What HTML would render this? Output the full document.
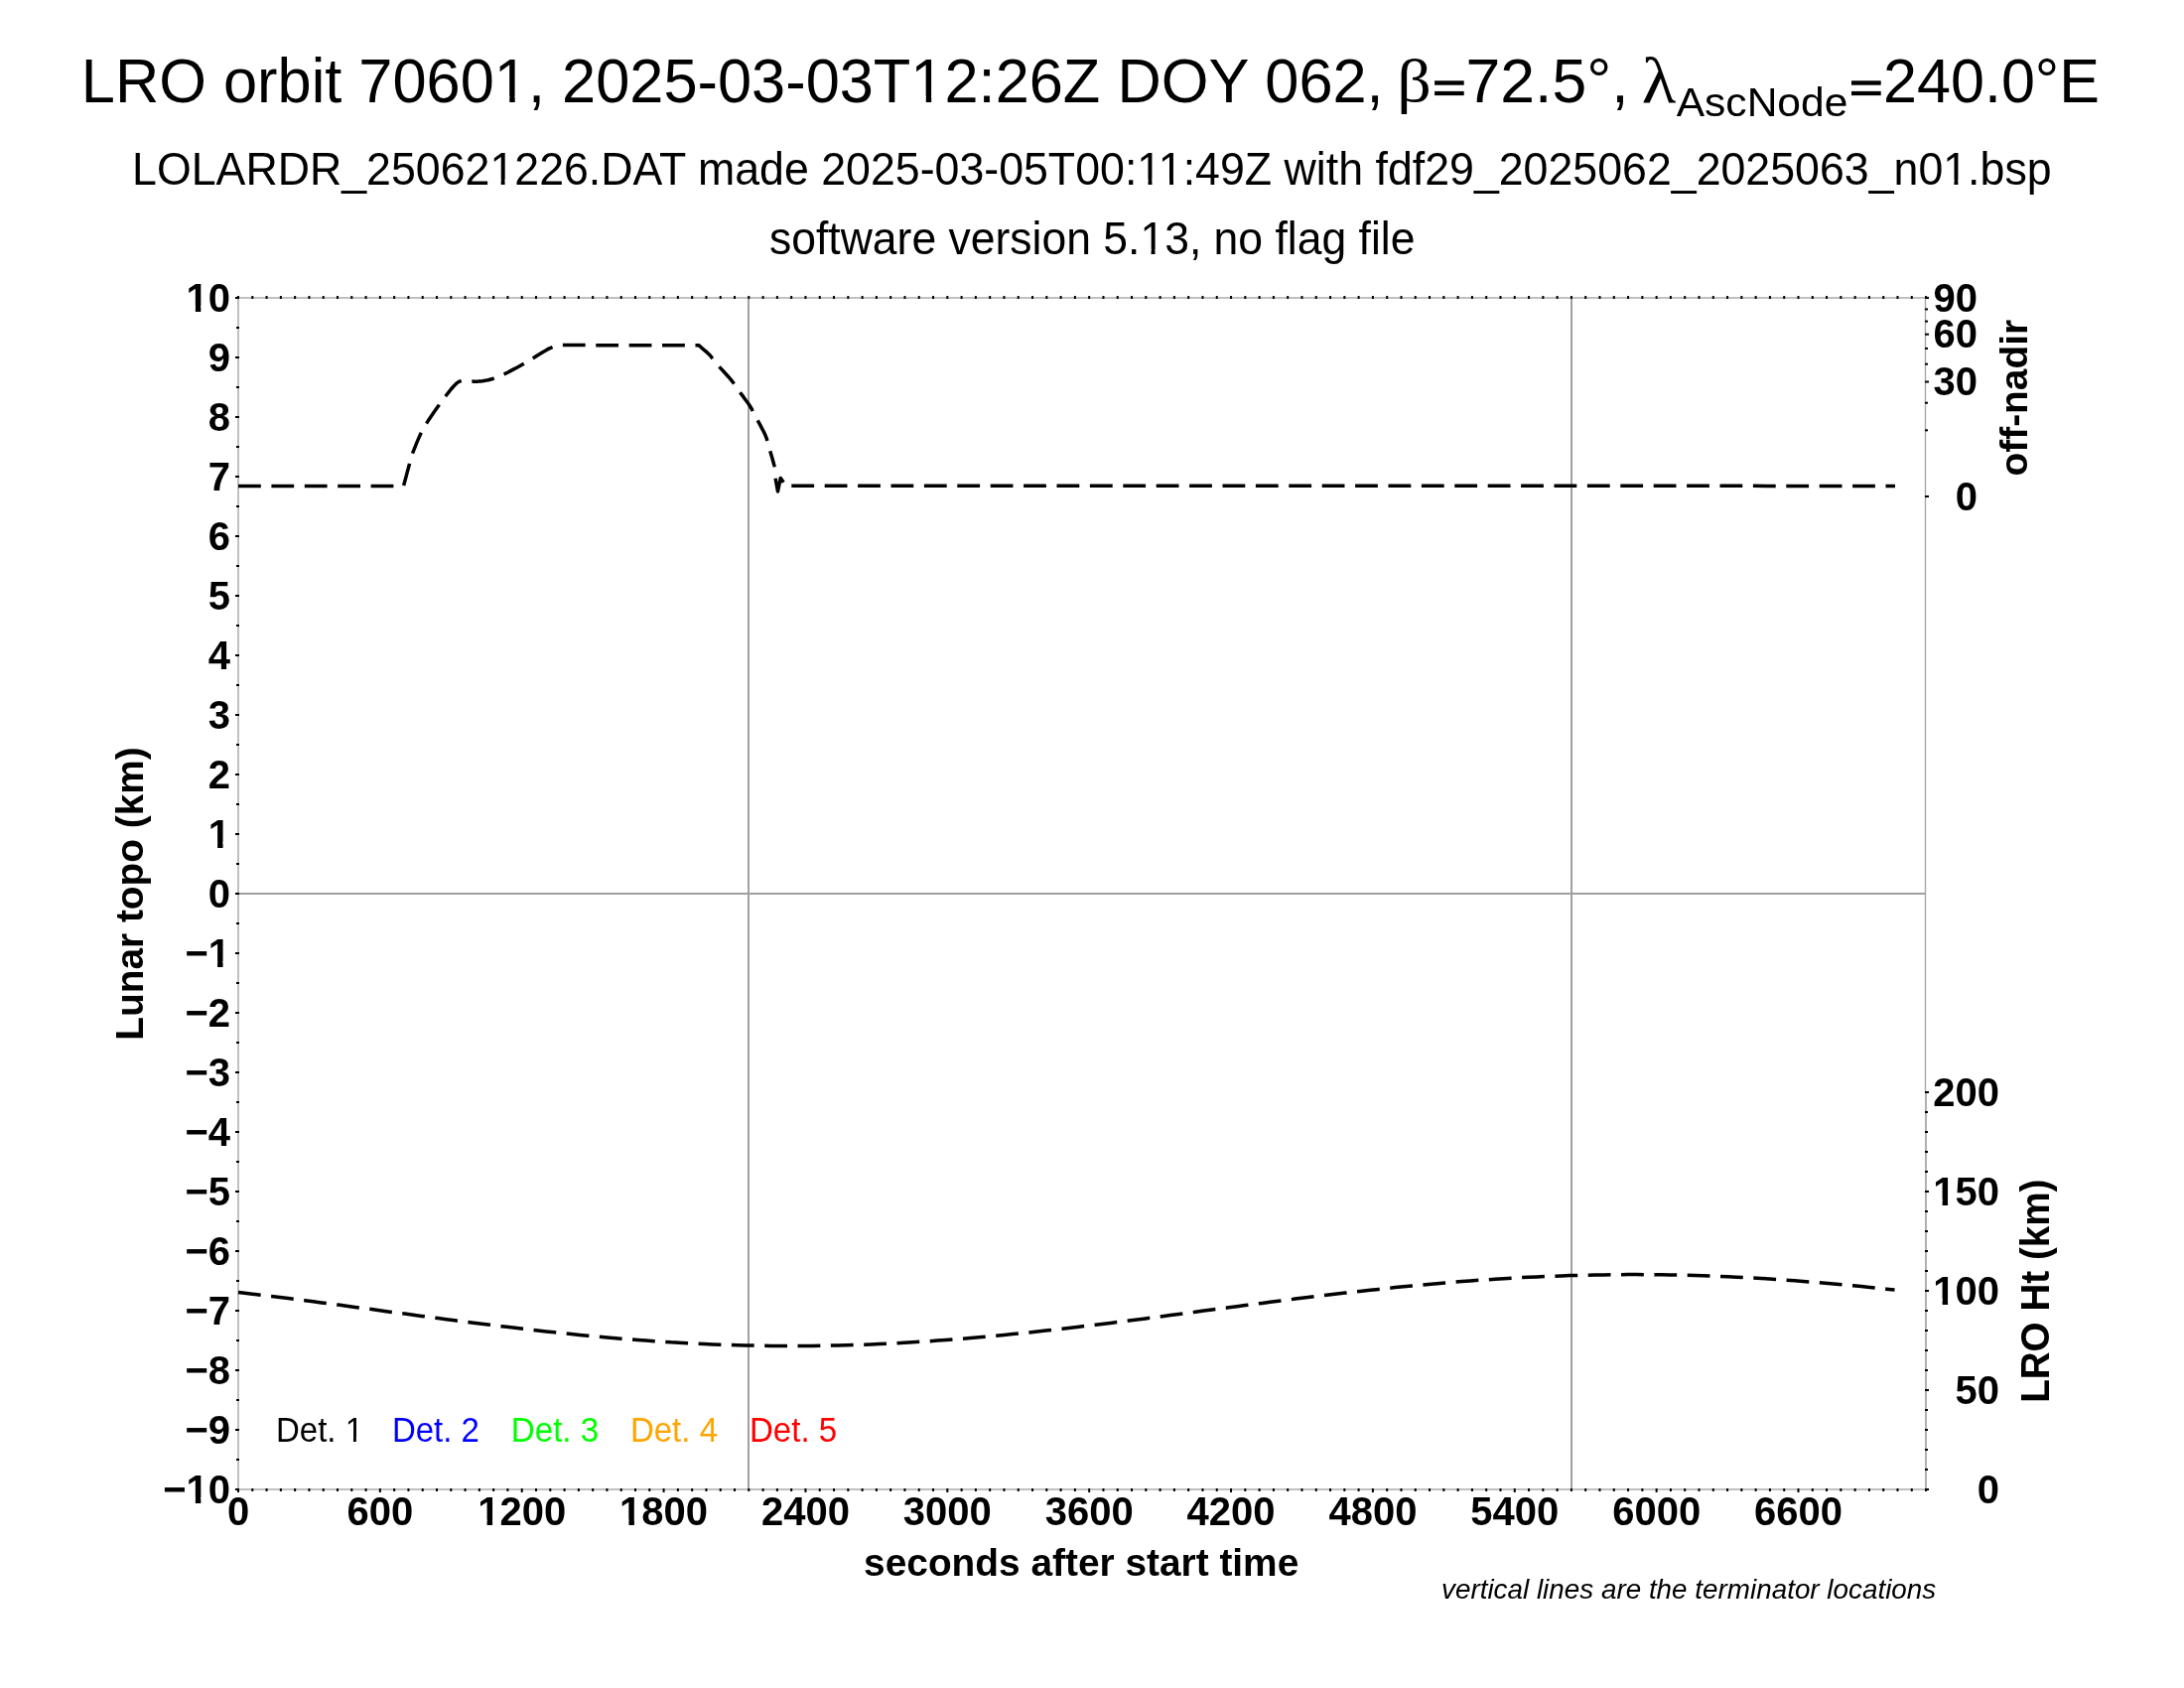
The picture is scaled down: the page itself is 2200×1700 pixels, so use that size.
<!DOCTYPE html>
<html><head><meta charset="utf-8"><title>LRO orbit 70601</title><style>
html,body{margin:0;padding:0;background:#fff;}
body{width:2200px;height:1700px;overflow:hidden;}
svg{display:block;will-change:transform;}

</style></head><body>
<svg width="2200" height="1700" viewBox="0 0 2200 1700">
<rect width="2200" height="1700" fill="#fff"/>

<text id="T1" transform="translate(81.80,103.00) scale(1.0008,1.0300)" style="font-family:&quot;Liberation Sans&quot;;font-weight:normal;font-style:normal;font-size:61.3px" fill="#000">LRO orbit 70601, 2025-03-03T12:26Z DOY 062,</text>
<text transform="translate(1407.27,102.36) scale(1.1080,1.0107)" style="font-family:&quot;Liberation Serif&quot;;font-weight:normal;font-style:normal;font-size:61.3px" fill="#000">β</text>
<text transform="translate(1476.54,103.00) scale(1.0197,1.0300)" style="font-family:&quot;Liberation Sans&quot;;font-weight:normal;font-style:normal;font-size:61.3px" fill="#000">72.5°,</text>
<text transform="translate(1653.67,103.00) scale(1.1630,1.0558)" style="font-family:&quot;Liberation Serif&quot;;font-weight:normal;font-style:normal;font-size:61.3px" fill="#000">λ</text>
<text transform="translate(1688.70,116.80) scale(1.0640,1.0356)" style="font-family:&quot;Liberation Sans&quot;;font-weight:normal;font-style:normal;font-size:40px" fill="#000">AscNode</text>
<text transform="translate(1897.11,103.00) scale(0.9958,1.0300)" style="font-family:&quot;Liberation Sans&quot;;font-weight:normal;font-style:normal;font-size:61.3px" fill="#000">240.0°E</text>
<text id="S2" transform="translate(133.10,186.00) scale(1.0003,1.0399)" style="font-family:&quot;Liberation Sans&quot;;font-weight:normal;font-style:normal;font-size:44.7px" fill="#000">LOLARDR_250621226.DAT made 2025-03-05T00:11:49Z with fdf29_2025062_2025063_n01.bsp</text>
<text id="S3" transform="translate(775.00,256.00) scale(0.9955,1.0188)" style="font-family:&quot;Liberation Sans&quot;;font-weight:normal;font-style:normal;font-size:44.7px" fill="#000">software version 5.13, no flag file</text>
<g fill="#000"><rect x="1445.1" y="81.3" width="29.6" height="4.4"/><rect x="1445.1" y="91.9" width="29.6" height="4.2"/><rect x="1865.0" y="81.3" width="29.7" height="4.4"/><rect x="1865.0" y="91.9" width="29.7" height="4.2"/></g>
<g fill="#a0a0a0">
<rect x="241" y="899" width="1698" height="2"/>
<rect x="753" y="301" width="2" height="1198"/>
<rect x="1582" y="301" width="2" height="1198"/>
</g>
<g fill="#c0c0c0">
<rect x="239" y="299" width="1702" height="2"/>
<rect x="239" y="1499" width="1702" height="2"/>
<rect x="239" y="299" width="2" height="1202"/>
</g>
<rect x="1938.8" y="299" width="1.4" height="801" fill="#a8a8a8"/>
<rect x="1939" y="1100" width="2" height="401" fill="#b0b0b0"/>
<g fill="#000"><rect x="239.00" y="298" width="2" height="3"/><rect x="239.00" y="1499" width="2" height="4"/><rect x="253.29" y="298" width="2" height="3"/><rect x="253.29" y="1499" width="2" height="3"/><rect x="267.57" y="298" width="2" height="3"/><rect x="267.57" y="1499" width="2" height="3"/><rect x="281.86" y="298" width="2" height="3"/><rect x="281.86" y="1499" width="2" height="3"/><rect x="296.15" y="298" width="2" height="3"/><rect x="296.15" y="1499" width="2" height="3"/><rect x="310.43" y="298" width="2" height="3"/><rect x="310.43" y="1499" width="2" height="3"/><rect x="324.72" y="298" width="2" height="3"/><rect x="324.72" y="1499" width="2" height="3"/><rect x="339.00" y="298" width="2" height="3"/><rect x="339.00" y="1499" width="2" height="3"/><rect x="353.29" y="298" width="2" height="3"/><rect x="353.29" y="1499" width="2" height="3"/><rect x="367.58" y="298" width="2" height="3"/><rect x="367.58" y="1499" width="2" height="3"/><rect x="381.86" y="298" width="2" height="3"/><rect x="381.86" y="1499" width="2" height="4"/><rect x="396.15" y="298" width="2" height="3"/><rect x="396.15" y="1499" width="2" height="3"/><rect x="410.44" y="298" width="2" height="3"/><rect x="410.44" y="1499" width="2" height="3"/><rect x="424.72" y="298" width="2" height="3"/><rect x="424.72" y="1499" width="2" height="3"/><rect x="439.01" y="298" width="2" height="3"/><rect x="439.01" y="1499" width="2" height="3"/><rect x="453.30" y="298" width="2" height="3"/><rect x="453.30" y="1499" width="2" height="3"/><rect x="467.58" y="298" width="2" height="3"/><rect x="467.58" y="1499" width="2" height="3"/><rect x="481.87" y="298" width="2" height="3"/><rect x="481.87" y="1499" width="2" height="3"/><rect x="496.15" y="298" width="2" height="3"/><rect x="496.15" y="1499" width="2" height="3"/><rect x="510.44" y="298" width="2" height="3"/><rect x="510.44" y="1499" width="2" height="3"/><rect x="524.73" y="298" width="2" height="3"/><rect x="524.73" y="1499" width="2" height="4"/><rect x="539.01" y="298" width="2" height="3"/><rect x="539.01" y="1499" width="2" height="3"/><rect x="553.30" y="298" width="2" height="3"/><rect x="553.30" y="1499" width="2" height="3"/><rect x="567.59" y="298" width="2" height="3"/><rect x="567.59" y="1499" width="2" height="3"/><rect x="581.87" y="298" width="2" height="3"/><rect x="581.87" y="1499" width="2" height="3"/><rect x="596.16" y="298" width="2" height="3"/><rect x="596.16" y="1499" width="2" height="3"/><rect x="610.45" y="298" width="2" height="3"/><rect x="610.45" y="1499" width="2" height="3"/><rect x="624.73" y="298" width="2" height="3"/><rect x="624.73" y="1499" width="2" height="3"/><rect x="639.02" y="298" width="2" height="3"/><rect x="639.02" y="1499" width="2" height="3"/><rect x="653.30" y="298" width="2" height="3"/><rect x="653.30" y="1499" width="2" height="3"/><rect x="667.59" y="298" width="2" height="3"/><rect x="667.59" y="1499" width="2" height="4"/><rect x="681.88" y="298" width="2" height="3"/><rect x="681.88" y="1499" width="2" height="3"/><rect x="696.16" y="298" width="2" height="3"/><rect x="696.16" y="1499" width="2" height="3"/><rect x="710.45" y="298" width="2" height="3"/><rect x="710.45" y="1499" width="2" height="3"/><rect x="724.74" y="298" width="2" height="3"/><rect x="724.74" y="1499" width="2" height="3"/><rect x="739.02" y="298" width="2" height="3"/><rect x="739.02" y="1499" width="2" height="3"/><rect x="753.31" y="298" width="2" height="3"/><rect x="753.31" y="1499" width="2" height="3"/><rect x="767.60" y="298" width="2" height="3"/><rect x="767.60" y="1499" width="2" height="3"/><rect x="781.88" y="298" width="2" height="3"/><rect x="781.88" y="1499" width="2" height="3"/><rect x="796.17" y="298" width="2" height="3"/><rect x="796.17" y="1499" width="2" height="3"/><rect x="810.45" y="298" width="2" height="3"/><rect x="810.45" y="1499" width="2" height="4"/><rect x="824.74" y="298" width="2" height="3"/><rect x="824.74" y="1499" width="2" height="3"/><rect x="839.03" y="298" width="2" height="3"/><rect x="839.03" y="1499" width="2" height="3"/><rect x="853.31" y="298" width="2" height="3"/><rect x="853.31" y="1499" width="2" height="3"/><rect x="867.60" y="298" width="2" height="3"/><rect x="867.60" y="1499" width="2" height="3"/><rect x="881.89" y="298" width="2" height="3"/><rect x="881.89" y="1499" width="2" height="3"/><rect x="896.17" y="298" width="2" height="3"/><rect x="896.17" y="1499" width="2" height="3"/><rect x="910.46" y="298" width="2" height="3"/><rect x="910.46" y="1499" width="2" height="3"/><rect x="924.75" y="298" width="2" height="3"/><rect x="924.75" y="1499" width="2" height="3"/><rect x="939.03" y="298" width="2" height="3"/><rect x="939.03" y="1499" width="2" height="3"/><rect x="953.32" y="298" width="2" height="3"/><rect x="953.32" y="1499" width="2" height="4"/><rect x="967.60" y="298" width="2" height="3"/><rect x="967.60" y="1499" width="2" height="3"/><rect x="981.89" y="298" width="2" height="3"/><rect x="981.89" y="1499" width="2" height="3"/><rect x="996.18" y="298" width="2" height="3"/><rect x="996.18" y="1499" width="2" height="3"/><rect x="1010.46" y="298" width="2" height="3"/><rect x="1010.46" y="1499" width="2" height="3"/><rect x="1024.75" y="298" width="2" height="3"/><rect x="1024.75" y="1499" width="2" height="3"/><rect x="1039.04" y="298" width="2" height="3"/><rect x="1039.04" y="1499" width="2" height="3"/><rect x="1053.32" y="298" width="2" height="3"/><rect x="1053.32" y="1499" width="2" height="3"/><rect x="1067.61" y="298" width="2" height="3"/><rect x="1067.61" y="1499" width="2" height="3"/><rect x="1081.90" y="298" width="2" height="3"/><rect x="1081.90" y="1499" width="2" height="3"/><rect x="1096.18" y="298" width="2" height="3"/><rect x="1096.18" y="1499" width="2" height="4"/><rect x="1110.47" y="298" width="2" height="3"/><rect x="1110.47" y="1499" width="2" height="3"/><rect x="1124.75" y="298" width="2" height="3"/><rect x="1124.75" y="1499" width="2" height="3"/><rect x="1139.04" y="298" width="2" height="3"/><rect x="1139.04" y="1499" width="2" height="3"/><rect x="1153.33" y="298" width="2" height="3"/><rect x="1153.33" y="1499" width="2" height="3"/><rect x="1167.61" y="298" width="2" height="3"/><rect x="1167.61" y="1499" width="2" height="3"/><rect x="1181.90" y="298" width="2" height="3"/><rect x="1181.90" y="1499" width="2" height="3"/><rect x="1196.19" y="298" width="2" height="3"/><rect x="1196.19" y="1499" width="2" height="3"/><rect x="1210.47" y="298" width="2" height="3"/><rect x="1210.47" y="1499" width="2" height="3"/><rect x="1224.76" y="298" width="2" height="3"/><rect x="1224.76" y="1499" width="2" height="3"/><rect x="1239.05" y="298" width="2" height="3"/><rect x="1239.05" y="1499" width="2" height="4"/><rect x="1253.33" y="298" width="2" height="3"/><rect x="1253.33" y="1499" width="2" height="3"/><rect x="1267.62" y="298" width="2" height="3"/><rect x="1267.62" y="1499" width="2" height="3"/><rect x="1281.90" y="298" width="2" height="3"/><rect x="1281.90" y="1499" width="2" height="3"/><rect x="1296.19" y="298" width="2" height="3"/><rect x="1296.19" y="1499" width="2" height="3"/><rect x="1310.48" y="298" width="2" height="3"/><rect x="1310.48" y="1499" width="2" height="3"/><rect x="1324.76" y="298" width="2" height="3"/><rect x="1324.76" y="1499" width="2" height="3"/><rect x="1339.05" y="298" width="2" height="3"/><rect x="1339.05" y="1499" width="2" height="3"/><rect x="1353.34" y="298" width="2" height="3"/><rect x="1353.34" y="1499" width="2" height="3"/><rect x="1367.62" y="298" width="2" height="3"/><rect x="1367.62" y="1499" width="2" height="3"/><rect x="1381.91" y="298" width="2" height="3"/><rect x="1381.91" y="1499" width="2" height="4"/><rect x="1396.20" y="298" width="2" height="3"/><rect x="1396.20" y="1499" width="2" height="3"/><rect x="1410.48" y="298" width="2" height="3"/><rect x="1410.48" y="1499" width="2" height="3"/><rect x="1424.77" y="298" width="2" height="3"/><rect x="1424.77" y="1499" width="2" height="3"/><rect x="1439.05" y="298" width="2" height="3"/><rect x="1439.05" y="1499" width="2" height="3"/><rect x="1453.34" y="298" width="2" height="3"/><rect x="1453.34" y="1499" width="2" height="3"/><rect x="1467.63" y="298" width="2" height="3"/><rect x="1467.63" y="1499" width="2" height="3"/><rect x="1481.91" y="298" width="2" height="3"/><rect x="1481.91" y="1499" width="2" height="3"/><rect x="1496.20" y="298" width="2" height="3"/><rect x="1496.20" y="1499" width="2" height="3"/><rect x="1510.49" y="298" width="2" height="3"/><rect x="1510.49" y="1499" width="2" height="3"/><rect x="1524.77" y="298" width="2" height="3"/><rect x="1524.77" y="1499" width="2" height="4"/><rect x="1539.06" y="298" width="2" height="3"/><rect x="1539.06" y="1499" width="2" height="3"/><rect x="1553.35" y="298" width="2" height="3"/><rect x="1553.35" y="1499" width="2" height="3"/><rect x="1567.63" y="298" width="2" height="3"/><rect x="1567.63" y="1499" width="2" height="3"/><rect x="1581.92" y="298" width="2" height="3"/><rect x="1581.92" y="1499" width="2" height="3"/><rect x="1596.20" y="298" width="2" height="3"/><rect x="1596.20" y="1499" width="2" height="3"/><rect x="1610.49" y="298" width="2" height="3"/><rect x="1610.49" y="1499" width="2" height="3"/><rect x="1624.78" y="298" width="2" height="3"/><rect x="1624.78" y="1499" width="2" height="3"/><rect x="1639.06" y="298" width="2" height="3"/><rect x="1639.06" y="1499" width="2" height="3"/><rect x="1653.35" y="298" width="2" height="3"/><rect x="1653.35" y="1499" width="2" height="3"/><rect x="1667.64" y="298" width="2" height="3"/><rect x="1667.64" y="1499" width="2" height="4"/><rect x="1681.92" y="298" width="2" height="3"/><rect x="1681.92" y="1499" width="2" height="3"/><rect x="1696.21" y="298" width="2" height="3"/><rect x="1696.21" y="1499" width="2" height="3"/><rect x="1710.50" y="298" width="2" height="3"/><rect x="1710.50" y="1499" width="2" height="3"/><rect x="1724.78" y="298" width="2" height="3"/><rect x="1724.78" y="1499" width="2" height="3"/><rect x="1739.07" y="298" width="2" height="3"/><rect x="1739.07" y="1499" width="2" height="3"/><rect x="1753.35" y="298" width="2" height="3"/><rect x="1753.35" y="1499" width="2" height="3"/><rect x="1767.64" y="298" width="2" height="3"/><rect x="1767.64" y="1499" width="2" height="3"/><rect x="1781.93" y="298" width="2" height="3"/><rect x="1781.93" y="1499" width="2" height="3"/><rect x="1796.21" y="298" width="2" height="3"/><rect x="1796.21" y="1499" width="2" height="3"/><rect x="1810.50" y="298" width="2" height="3"/><rect x="1810.50" y="1499" width="2" height="4"/><rect x="1824.79" y="298" width="2" height="3"/><rect x="1824.79" y="1499" width="2" height="3"/><rect x="1839.07" y="298" width="2" height="3"/><rect x="1839.07" y="1499" width="2" height="3"/><rect x="1853.36" y="298" width="2" height="3"/><rect x="1853.36" y="1499" width="2" height="3"/><rect x="1867.65" y="298" width="2" height="3"/><rect x="1867.65" y="1499" width="2" height="3"/><rect x="1881.93" y="298" width="2" height="3"/><rect x="1881.93" y="1499" width="2" height="3"/><rect x="1896.22" y="298" width="2" height="3"/><rect x="1896.22" y="1499" width="2" height="3"/><rect x="1910.50" y="298" width="2" height="3"/><rect x="1910.50" y="1499" width="2" height="3"/><rect x="1924.79" y="298" width="2" height="3"/><rect x="1924.79" y="1499" width="2" height="3"/><rect x="1939.08" y="298" width="2" height="3"/><rect x="1939.08" y="1499" width="2" height="3"/><rect x="237" y="1499.00" width="4" height="2"/><rect x="238" y="1469.00" width="3" height="2"/><rect x="237" y="1439.00" width="4" height="2"/><rect x="238" y="1409.00" width="3" height="2"/><rect x="237" y="1379.00" width="4" height="2"/><rect x="238" y="1349.00" width="3" height="2"/><rect x="237" y="1319.00" width="4" height="2"/><rect x="238" y="1289.00" width="3" height="2"/><rect x="237" y="1259.00" width="4" height="2"/><rect x="238" y="1229.00" width="3" height="2"/><rect x="237" y="1199.00" width="4" height="2"/><rect x="238" y="1169.00" width="3" height="2"/><rect x="237" y="1139.00" width="4" height="2"/><rect x="238" y="1109.00" width="3" height="2"/><rect x="237" y="1079.00" width="4" height="2"/><rect x="238" y="1049.00" width="3" height="2"/><rect x="237" y="1019.00" width="4" height="2"/><rect x="238" y="989.00" width="3" height="2"/><rect x="237" y="959.00" width="4" height="2"/><rect x="238" y="929.00" width="3" height="2"/><rect x="237" y="899.00" width="4" height="2"/><rect x="238" y="869.00" width="3" height="2"/><rect x="237" y="839.00" width="4" height="2"/><rect x="238" y="809.00" width="3" height="2"/><rect x="237" y="779.00" width="4" height="2"/><rect x="238" y="749.00" width="3" height="2"/><rect x="237" y="719.00" width="4" height="2"/><rect x="238" y="689.00" width="3" height="2"/><rect x="237" y="659.00" width="4" height="2"/><rect x="238" y="629.00" width="3" height="2"/><rect x="237" y="599.00" width="4" height="2"/><rect x="238" y="569.00" width="3" height="2"/><rect x="237" y="539.00" width="4" height="2"/><rect x="238" y="509.00" width="3" height="2"/><rect x="237" y="479.00" width="4" height="2"/><rect x="238" y="449.00" width="3" height="2"/><rect x="237" y="419.00" width="4" height="2"/><rect x="238" y="389.00" width="3" height="2"/><rect x="237" y="359.00" width="4" height="2"/><rect x="238" y="329.00" width="3" height="2"/><rect x="237" y="299.00" width="4" height="2"/><rect x="1939" y="499.00" width="4" height="2"/><rect x="1939" y="432.33" width="3" height="2"/><rect x="1939" y="404.72" width="3" height="2"/><rect x="1939" y="383.53" width="4" height="2"/><rect x="1939" y="365.67" width="3" height="2"/><rect x="1939" y="349.93" width="3" height="2"/><rect x="1939" y="335.70" width="4" height="2"/><rect x="1939" y="322.62" width="3" height="2"/><rect x="1939" y="310.44" width="3" height="2"/><rect x="1939" y="299.00" width="4" height="2"/><rect x="1939" y="1499.00" width="4" height="2"/><rect x="1939" y="1479.00" width="3" height="2"/><rect x="1939" y="1459.00" width="3" height="2"/><rect x="1939" y="1439.00" width="3" height="2"/><rect x="1939" y="1419.00" width="3" height="2"/><rect x="1939" y="1399.00" width="4" height="2"/><rect x="1939" y="1379.00" width="3" height="2"/><rect x="1939" y="1359.00" width="3" height="2"/><rect x="1939" y="1339.00" width="3" height="2"/><rect x="1939" y="1319.00" width="3" height="2"/><rect x="1939" y="1299.00" width="4" height="2"/><rect x="1939" y="1279.00" width="3" height="2"/><rect x="1939" y="1259.00" width="3" height="2"/><rect x="1939" y="1239.00" width="3" height="2"/><rect x="1939" y="1219.00" width="3" height="2"/><rect x="1939" y="1199.00" width="4" height="2"/><rect x="1939" y="1179.00" width="3" height="2"/><rect x="1939" y="1159.00" width="3" height="2"/><rect x="1939" y="1139.00" width="3" height="2"/><rect x="1939" y="1119.00" width="3" height="2"/><rect x="1939" y="1099.00" width="4" height="2"/></g>
<g style="font-family:&quot;Liberation Sans&quot;;font-weight:bold;font-size:40px"><text id="L3" transform="translate(232.00,1513.60) scale(1,1.02)" text-anchor="end">−10</text><text transform="translate(232.00,1453.60) scale(1,1.02)" text-anchor="end">−9</text><text transform="translate(232.00,1393.60) scale(1,1.02)" text-anchor="end">−8</text><text transform="translate(232.00,1333.60) scale(1,1.02)" text-anchor="end">−7</text><text transform="translate(232.00,1273.60) scale(1,1.02)" text-anchor="end">−6</text><text transform="translate(232.00,1213.60) scale(1,1.02)" text-anchor="end">−5</text><text transform="translate(232.00,1153.60) scale(1,1.02)" text-anchor="end">−4</text><text transform="translate(232.00,1093.60) scale(1,1.02)" text-anchor="end">−3</text><text transform="translate(232.00,1033.60) scale(1,1.02)" text-anchor="end">−2</text><text id="L4" transform="translate(232.00,973.60) scale(1,1.02)" text-anchor="end">−1</text><text transform="translate(232.00,913.60) scale(1,1.02)" text-anchor="end">0</text><text id="L5" transform="translate(232.00,853.60) scale(1,1.02)" text-anchor="end">1</text><text transform="translate(232.00,793.60) scale(1,1.02)" text-anchor="end">2</text><text transform="translate(232.00,733.60) scale(1,1.02)" text-anchor="end">3</text><text transform="translate(232.00,673.60) scale(1,1.02)" text-anchor="end">4</text><text transform="translate(232.00,613.60) scale(1,1.02)" text-anchor="end">5</text><text transform="translate(232.00,553.60) scale(1,1.02)" text-anchor="end">6</text><text transform="translate(232.00,493.60) scale(1,1.02)" text-anchor="end">7</text><text transform="translate(232.00,433.60) scale(1,1.02)" text-anchor="end">8</text><text transform="translate(232.00,373.60) scale(1,1.02)" text-anchor="end">9</text><text id="L6" transform="translate(232.00,313.60) scale(1,1.02)" text-anchor="end">10</text><text transform="translate(240.00,1536.30) scale(1,1.02)" text-anchor="middle">0</text><text transform="translate(382.86,1536.30) scale(1,1.02)" text-anchor="middle">600</text><text id="L7" transform="translate(525.73,1536.30) scale(1,1.02)" text-anchor="middle">1200</text><text id="L8" transform="translate(668.59,1536.30) scale(1,1.02)" text-anchor="middle">1800</text><text transform="translate(811.45,1536.30) scale(1,1.02)" text-anchor="middle">2400</text><text transform="translate(954.32,1536.30) scale(1,1.02)" text-anchor="middle">3000</text><text transform="translate(1097.18,1536.30) scale(1,1.02)" text-anchor="middle">3600</text><text transform="translate(1240.05,1536.30) scale(1,1.02)" text-anchor="middle">4200</text><text transform="translate(1382.91,1536.30) scale(1,1.02)" text-anchor="middle">4800</text><text transform="translate(1525.77,1536.30) scale(1,1.02)" text-anchor="middle">5400</text><text transform="translate(1668.64,1536.30) scale(1,1.02)" text-anchor="middle">6000</text><text transform="translate(1811.50,1536.30) scale(1,1.02)" text-anchor="middle">6600</text><text transform="translate(1992.00,513.60) scale(1,1.02)" text-anchor="end">0</text><text transform="translate(1992.00,398.13) scale(1,1.02)" text-anchor="end">30</text><text transform="translate(1992.00,350.30) scale(1,1.02)" text-anchor="end">60</text><text transform="translate(1992.00,313.60) scale(1,1.02)" text-anchor="end">90</text><text transform="translate(2014.00,1513.60) scale(1,1.02)" text-anchor="end">0</text><text transform="translate(2014.00,1413.60) scale(1,1.02)" text-anchor="end">50</text><text id="L9" transform="translate(2014.00,1313.60) scale(1,1.02)" text-anchor="end">100</text><text id="L10" transform="translate(2014.00,1213.60) scale(1,1.02)" text-anchor="end">150</text><text transform="translate(2014.00,1113.60) scale(1,1.02)" text-anchor="end">200</text></g>
<text transform="translate(870.11,1587.00) scale(0.9961,1.0014)" style="font-family:&quot;Liberation Sans&quot;;font-weight:bold;font-style:normal;font-size:39px" fill="#000">seconds after start time</text>
<text transform="translate(143.90,1047.69) rotate(-90) scale(0.9952,1.0175)" style="font-family:&quot;Liberation Sans&quot;;font-weight:bold;font-style:normal;font-size:39px" fill="#000">Lunar topo (km)</text>
<text transform="translate(2041.80,479.49) rotate(-90) scale(0.9974,0.9873)" style="font-family:&quot;Liberation Sans&quot;;font-weight:bold;font-style:normal;font-size:39px" fill="#000">off-nadir</text>
<text transform="translate(2064.00,1412.87) rotate(-90) scale(0.9910,1.0361)" style="font-family:&quot;Liberation Sans&quot;;font-weight:bold;font-style:normal;font-size:39px" fill="#000">LRO Ht (km)</text>
<text id="D1" transform="translate(278.00,1451.70) scale(1.0000,1.0615)" style="font-family:&quot;Liberation Sans&quot;;font-weight:normal;font-style:normal;font-size:33px" fill="#000000">Det. 1</text>
<text transform="translate(394.90,1451.70) scale(1.0000,1.0615)" style="font-family:&quot;Liberation Sans&quot;;font-weight:normal;font-style:normal;font-size:33px" fill="#0000ff">Det. 2</text>
<text transform="translate(514.79,1451.70) scale(1.0048,1.0615)" style="font-family:&quot;Liberation Sans&quot;;font-weight:normal;font-style:normal;font-size:33px" fill="#00ff00">Det. 3</text>
<text transform="translate(634.90,1451.70) scale(1.0012,1.0615)" style="font-family:&quot;Liberation Sans&quot;;font-weight:normal;font-style:normal;font-size:33px" fill="#ffa500">Det. 4</text>
<text transform="translate(754.89,1451.70) scale(1.0036,1.0615)" style="font-family:&quot;Liberation Sans&quot;;font-weight:normal;font-style:normal;font-size:33px" fill="#ff0000">Det. 5</text>
<text transform="translate(1452.01,1609.90) scale(0.9946,1.0005)" style="font-family:&quot;Liberation Sans&quot;;font-weight:normal;font-style:italic;font-size:28px" fill="#000">vertical lines are the terminator locations</text>
<g transform="translate(81.80,103.00) scale(1.0008,1.0300)" fill="#fff"><rect x="419.58" y="-6.18" width="11.55" height="6.98"/><rect x="436.54" y="-6.18" width="11.07" height="6.98"/><rect x="838.74" y="-6.18" width="11.55" height="6.98"/><rect x="855.70" y="-6.18" width="11.07" height="6.98"/></g>
<g transform="translate(133.10,186.00) scale(1.0003,1.0399)" fill="#fff"><rect x="362.80" y="-4.94" width="8.64" height="5.74"/><rect x="375.38" y="-4.94" width="8.29" height="5.74"/><rect x="1014.49" y="-4.94" width="8.64" height="5.74"/><rect x="1027.08" y="-4.94" width="8.29" height="5.74"/><rect x="1036.03" y="-4.94" width="8.64" height="5.74"/><rect x="1048.61" y="-4.94" width="8.29" height="5.74"/><rect x="1826.18" y="-4.94" width="8.64" height="5.74"/><rect x="1838.76" y="-4.94" width="8.29" height="5.74"/></g>
<g transform="translate(775.00,256.00) scale(0.9955,1.0188)" fill="#fff"><rect x="377.69" y="-4.94" width="8.64" height="5.74"/><rect x="390.28" y="-4.94" width="8.29" height="5.74"/></g>
<g transform="translate(232.00,1513.60) scale(1,1.02)" fill="#fff"><rect x="-42.77" y="-5.68" width="7.62" height="6.48"/><rect x="-29.67" y="-5.68" width="7.11" height="6.48"/></g>
<g transform="translate(232.00,973.60) scale(1,1.02)" fill="#fff"><rect x="-20.54" y="-5.68" width="7.62" height="6.48"/><rect x="-7.44" y="-5.68" width="7.11" height="6.48"/></g>
<g transform="translate(232.00,853.60) scale(1,1.02)" fill="#fff"><rect x="-20.53" y="-5.68" width="7.62" height="6.48"/><rect x="-7.42" y="-5.68" width="7.11" height="6.48"/></g>
<g transform="translate(232.00,313.60) scale(1,1.02)" fill="#fff"><rect x="-42.77" y="-5.68" width="7.62" height="6.48"/><rect x="-29.67" y="-5.68" width="7.11" height="6.48"/></g>
<g transform="translate(525.73,1536.30) scale(1,1.02)" fill="#fff"><rect x="-42.76" y="-5.68" width="7.62" height="6.48"/><rect x="-29.66" y="-5.68" width="7.11" height="6.48"/></g>
<g transform="translate(668.59,1536.30) scale(1,1.02)" fill="#fff"><rect x="-42.76" y="-5.68" width="7.62" height="6.48"/><rect x="-29.66" y="-5.68" width="7.11" height="6.48"/></g>
<g transform="translate(2014.00,1313.60) scale(1,1.02)" fill="#fff"><rect x="-65.00" y="-5.68" width="7.62" height="6.48"/><rect x="-51.90" y="-5.68" width="7.11" height="6.48"/></g>
<g transform="translate(2014.00,1213.60) scale(1,1.02)" fill="#fff"><rect x="-65.00" y="-5.68" width="7.62" height="6.48"/><rect x="-51.90" y="-5.68" width="7.11" height="6.48"/></g>
<g transform="translate(278.00,1451.70) scale(1.0000,1.0615)" fill="#fff"><rect x="71.37" y="-4.07" width="6.58" height="4.87"/><rect x="80.87" y="-4.07" width="6.33" height="4.87"/></g>
<path d="M240.0,489.5 L406.5,489.4 L407.1,487.2 L408.0,484.0 L409.0,480.3 L410.0,476.4 L411.0,472.8 L411.8,469.8 L412.4,467.5 L412.8,465.8 L413.1,464.2 L413.5,462.6 L414.0,460.9 L414.8,458.6 L415.9,455.7 L417.2,452.4 L418.6,448.8 L420.1,445.2 L421.5,441.9 L422.8,439.0 L423.8,436.8 L424.6,435.0 L425.3,433.5 L426.1,432.0 L427.1,430.3 L428.4,428.2 L430.1,425.6 L432.1,422.5 L434.3,419.3 L436.5,416.1 L438.6,413.1 L440.4,410.6 L441.8,408.6 L442.8,407.0 L443.7,405.7 L444.6,404.4 L445.7,402.9 L447.2,401.0 L449.2,398.5 L451.5,395.6 L453.9,392.5 L456.5,389.5 L459.0,386.9 L461.2,385.0 L463.2,384.0 L465.1,383.5 L466.8,383.6 L468.6,383.8 L470.3,384.0 L472.0,384.1 L473.7,384.1 L475.4,384.1 L477.0,384.2 L478.7,384.2 L480.3,384.2 L482.1,384.1 L483.9,383.9 L485.8,383.7 L487.8,383.4 L489.7,383.1 L491.7,382.7 L493.6,382.2 L495.4,381.7 L497.2,381.2 L499.0,380.6 L500.8,380.0 L502.9,379.1 L505.2,378.1 L508.0,376.8 L511.2,375.2 L514.6,373.4 L517.9,371.6 L521.1,370.0 L523.8,368.5 L525.9,367.3 L527.6,366.4 L529.1,365.5 L530.5,364.7 L532.2,363.7 L534.3,362.4 L537.0,360.8 L540.1,358.8 L543.3,356.8 L546.6,354.7 L549.7,352.9 L552.4,351.4 L554.7,350.3 L556.9,349.5 L558.8,348.8 L560.5,348.3 L561.8,347.9 L562.9,347.6 L703.7,347.7 L704.9,348.7 L706.6,350.1 L708.6,351.8 L710.7,353.6 L712.7,355.4 L714.4,357.0 L715.7,358.4 L716.7,359.7 L717.6,361.0 L718.6,362.3 L719.7,363.9 L721.3,365.8 L723.4,368.1 L725.9,370.9 L728.6,373.8 L731.3,376.7 L733.8,379.5 L735.9,381.9 L737.4,383.8 L738.6,385.4 L739.5,386.8 L740.4,388.2 L741.4,389.7 L742.8,391.7 L744.6,394.1 L746.7,396.9 L749.0,399.9 L751.2,403.0 L753.3,405.8 L755.0,408.3 L756.3,410.3 L757.3,412.0 L758.0,413.5 L758.8,415.1 L759.7,416.8 L760.8,419.0 L762.3,421.7 L764.0,424.9 L765.8,428.2 L767.6,431.6 L769.3,434.8 L770.6,437.6 L771.6,439.9 L772.3,441.8 L772.8,443.6 L773.3,445.4 L773.8,447.4 L774.5,449.8 L775.4,453.0 L776.5,456.8 L777.7,460.8 L778.8,464.7 L779.7,468.0 L780.4,470.3" fill="none" stroke="#000" stroke-width="3.5" stroke-dasharray="22.8 10.6" stroke-linejoin="round"/>
<path d="M781.1,481.7 L783.5,495 L786.3,481.4 L789.3,485.8" fill="none" stroke="#000" stroke-width="3.5" stroke-linejoin="round"/>
<path d="M797.3,489.2 L1909,489.4" fill="none" stroke="#000" stroke-width="3.5" stroke-dasharray="22.8 10.6"/>
<path d="M240.0,1301.5 L248.4,1302.5 L256.8,1303.5 L265.2,1304.5 L273.5,1305.5 L281.9,1306.6 L290.3,1307.6 L298.7,1308.7 L307.1,1309.7 L315.5,1310.8 L323.8,1311.9 L332.2,1313.0 L340.6,1314.1 L349.0,1315.3 L357.4,1316.4 L365.8,1317.5 L374.2,1318.6 L382.5,1319.8 L390.9,1320.9 L399.3,1322.0 L407.7,1323.1 L416.1,1324.3 L424.5,1325.4 L432.8,1326.5 L441.2,1327.6 L449.6,1328.7 L458.0,1329.8 L466.4,1330.9 L474.8,1331.9 L483.1,1333.0 L491.5,1334.0 L499.9,1335.1 L508.3,1336.1 L516.7,1337.1 L525.1,1338.1 L533.5,1339.0 L541.8,1340.0 L550.2,1340.9 L558.6,1341.8 L567.0,1342.7 L575.4,1343.5 L583.8,1344.4 L592.1,1345.2 L600.5,1346.0 L608.9,1346.7 L617.3,1347.5 L625.7,1348.2 L634.1,1348.8 L642.5,1349.5 L650.8,1350.1 L659.2,1350.7 L667.6,1351.2 L676.0,1351.8 L684.4,1352.2 L692.8,1352.7 L701.1,1353.1 L709.5,1353.5 L717.9,1353.9 L726.3,1354.2 L734.7,1354.5 L743.1,1354.7 L751.4,1354.9 L759.8,1355.1 L768.2,1355.3 L776.6,1355.4 L785.0,1355.4 L793.4,1355.5 L801.8,1355.5 L810.1,1355.4 L818.5,1355.4 L826.9,1355.2 L835.3,1355.1 L843.7,1354.9 L852.1,1354.7 L860.4,1354.5 L868.8,1354.2 L877.2,1353.9 L885.6,1353.5 L894.0,1353.1 L902.4,1352.7 L910.8,1352.2 L919.1,1351.7 L927.5,1351.2 L935.9,1350.7 L944.3,1350.1 L952.7,1349.5 L961.1,1348.8 L969.4,1348.2 L977.8,1347.5 L986.2,1346.8 L994.6,1346.0 L1003.0,1345.2 L1011.4,1344.4 L1019.8,1343.6 L1028.1,1342.8 L1036.5,1341.9 L1044.9,1341.0 L1053.3,1340.1 L1061.7,1339.1 L1070.1,1338.2 L1078.4,1337.2 L1086.8,1336.2 L1095.2,1335.2 L1103.6,1334.2 L1112.0,1333.2 L1120.4,1332.2 L1128.7,1331.1 L1137.1,1330.0 L1145.5,1329.0 L1153.9,1327.9 L1162.3,1326.8 L1170.7,1325.7 L1179.1,1324.6 L1187.4,1323.5 L1195.8,1322.4 L1204.2,1321.3 L1212.6,1320.1 L1221.0,1319.0 L1229.4,1317.9 L1237.7,1316.8 L1246.1,1315.7 L1254.5,1314.6 L1262.9,1313.5 L1271.3,1312.4 L1279.7,1311.3 L1288.1,1310.3 L1296.4,1309.2 L1304.8,1308.1 L1313.2,1307.1 L1321.6,1306.1 L1330.0,1305.0 L1338.4,1304.0 L1346.7,1303.1 L1355.1,1302.1 L1363.5,1301.1 L1371.9,1300.2 L1380.3,1299.3 L1388.7,1298.4 L1397.1,1297.5 L1405.4,1296.6 L1413.8,1295.8 L1422.2,1295.0 L1430.6,1294.2 L1439.0,1293.4 L1447.4,1292.7 L1455.7,1292.0 L1464.1,1291.3 L1472.5,1290.6 L1480.9,1290.0 L1489.3,1289.3 L1497.7,1288.8 L1506.0,1288.2 L1514.4,1287.7 L1522.8,1287.2 L1531.2,1286.7 L1539.6,1286.3 L1548.0,1285.9 L1556.4,1285.5 L1564.7,1285.2 L1573.1,1284.9 L1581.5,1284.6 L1589.9,1284.4 L1598.3,1284.2 L1606.7,1284.0 L1615.0,1283.9 L1623.4,1283.7 L1631.8,1283.7 L1640.2,1283.6 L1648.6,1283.6 L1657.0,1283.7 L1665.4,1283.7 L1673.7,1283.8 L1682.1,1283.9 L1690.5,1284.1 L1698.9,1284.3 L1707.3,1284.5 L1715.7,1284.8 L1724.0,1285.1 L1732.4,1285.4 L1740.8,1285.8 L1749.2,1286.2 L1757.6,1286.6 L1766.0,1287.0 L1774.3,1287.5 L1782.7,1288.0 L1791.1,1288.6 L1799.5,1289.2 L1807.9,1289.8 L1816.3,1290.4 L1824.7,1291.1 L1833.0,1291.8 L1841.4,1292.5 L1849.8,1293.2 L1858.2,1294.0 L1866.6,1294.8 L1875.0,1295.6 L1883.3,1296.4 L1891.7,1297.3 L1900.1,1298.2 L1908.5,1299.1" fill="none" stroke="#000" stroke-width="3.5" stroke-dasharray="22.8 10.53"/>
</svg></body></html>
